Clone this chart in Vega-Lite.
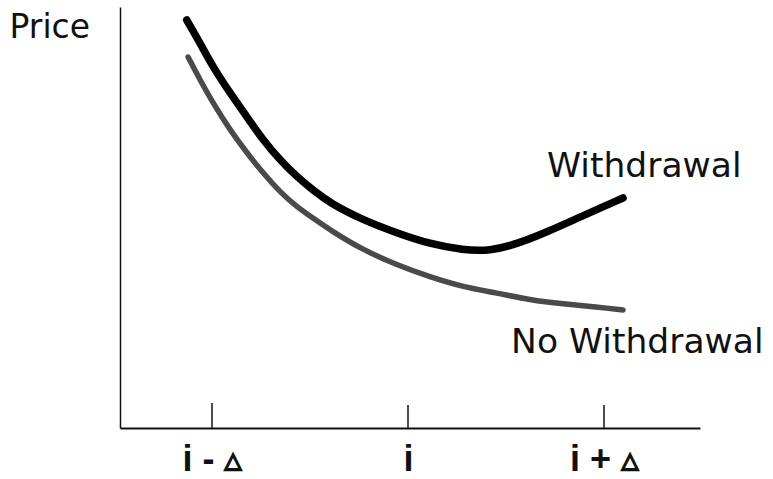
{
  "$schema": "https://vega.github.io/schema/vega-lite/v6.json",
  "width": 580,
  "height": 421,
  "autosize": {"type": "none"},
  "padding": {"left": 120, "top": 7, "right": 73, "bottom": 51},
  "background": "white",
  "config": {"view": {"stroke": null}, "font": "DejaVu Sans"},
  "datasets": {
    "curves": [
      {"series": "Withdrawal", "x": -1.129, "y": 408},
      {"series": "Withdrawal", "x": -1.061, "y": 385},
      {"series": "Withdrawal", "x": -0.995, "y": 361},
      {"series": "Withdrawal", "x": -0.908, "y": 335},
      {"series": "Withdrawal", "x": -0.821, "y": 311},
      {"series": "Withdrawal", "x": -0.74, "y": 288},
      {"series": "Withdrawal", "x": -0.653, "y": 268},
      {"series": "Withdrawal", "x": -0.566, "y": 251},
      {"series": "Withdrawal", "x": -0.485, "y": 238},
      {"series": "Withdrawal", "x": -0.398, "y": 225},
      {"series": "Withdrawal", "x": -0.23, "y": 208},
      {"series": "Withdrawal", "x": -0.056, "y": 195},
      {"series": "Withdrawal", "x": 0.112, "y": 184},
      {"series": "Withdrawal", "x": 0.281, "y": 178},
      {"series": "Withdrawal", "x": 0.418, "y": 177},
      {"series": "Withdrawal", "x": 0.556, "y": 184},
      {"series": "Withdrawal", "x": 0.709, "y": 196},
      {"series": "Withdrawal", "x": 0.878, "y": 211},
      {"series": "Withdrawal", "x": 1.097, "y": 230},
      {"series": "No Withdrawal", "x": -1.122, "y": 371},
      {"series": "No Withdrawal", "x": -1.061, "y": 348},
      {"series": "No Withdrawal", "x": -0.995, "y": 325},
      {"series": "No Withdrawal", "x": -0.908, "y": 298},
      {"series": "No Withdrawal", "x": -0.821, "y": 275},
      {"series": "No Withdrawal", "x": -0.74, "y": 255},
      {"series": "No Withdrawal", "x": -0.653, "y": 236},
      {"series": "No Withdrawal", "x": -0.566, "y": 221},
      {"series": "No Withdrawal", "x": -0.485, "y": 210},
      {"series": "No Withdrawal", "x": -0.398, "y": 198},
      {"series": "No Withdrawal", "x": -0.23, "y": 178},
      {"series": "No Withdrawal", "x": -0.056, "y": 163},
      {"series": "No Withdrawal", "x": 0.112, "y": 151},
      {"series": "No Withdrawal", "x": 0.281, "y": 141},
      {"series": "No Withdrawal", "x": 0.454, "y": 135},
      {"series": "No Withdrawal", "x": 0.622, "y": 128},
      {"series": "No Withdrawal", "x": 0.791, "y": 124},
      {"series": "No Withdrawal", "x": 0.964, "y": 121},
      {"series": "No Withdrawal", "x": 1.097, "y": 118}
    ],
    "ticks": [
      {"x": -1, "y": 0, "y2": 25},
      {"x": 0, "y": 0, "y2": 23},
      {"x": 1, "y": 0, "y2": 23}
    ],
    "labels": [
      {"label": "Withdrawal", "x": 0.709, "y": 251},
      {"label": "No Withdrawal", "x": 0.526, "y": 75}
    ]
  },
  "layer": [
    {
      "data": {"name": "curves"},
      "mark": {"type": "line", "interpolate": "basis", "strokeCap": "round"},
      "encoding": {
        "x": {
          "field": "x", "type": "quantitative",
          "scale": {"domain": [-1.4694, 1.4898], "nice": false, "zero": false},
          "axis": {
            "values": [-1, 0, 1],
            "labelExpr": "datum.value < 0 ? 'i - ▵' : datum.value > 0 ? 'i + ▵' : 'i'",
            "ticks": false, "grid": false, "title": null,
            "domainColor": "#111", "domainWidth": 2,
            "labelFont": "Liberation Sans", "labelFontWeight": "bold",
            "labelFontSize": 36, "labelColor": "#111",
            "labelBaseline": "bottom", "labelPadding": 50, "labelFlush": false
          }
        },
        "y": {
          "field": "y", "type": "quantitative",
          "scale": {"domain": [0, 421], "nice": false},
          "axis": {
            "ticks": false, "labels": false, "grid": false,
            "domainColor": "#111", "domainWidth": 1.5,
            "title": "Price", "titleAngle": 0, "titleAlign": "left",
            "titleBaseline": "alphabetic", "titleX": -111, "titleY": 30,
            "titleFont": "DejaVu Sans",
            "titleFontSize": 33, "titleFontWeight": "normal", "titleColor": "#111"
          }
        },
        "detail": {"field": "series"},
        "color": {
          "field": "series", "type": "nominal",
          "scale": {"domain": ["Withdrawal", "No Withdrawal"], "range": ["#000000", "#4a4a4a"]},
          "legend": null
        },
        "strokeWidth": {
          "field": "series", "type": "nominal",
          "scale": {"domain": ["Withdrawal", "No Withdrawal"], "range": [7.5, 5.5]},
          "legend": null
        }
      }
    },
    {
      "data": {"name": "ticks"},
      "mark": {"type": "rule", "color": "#111", "strokeWidth": 1.5},
      "encoding": {
        "x": {"field": "x", "type": "quantitative"},
        "y": {"field": "y", "type": "quantitative"},
        "y2": {"field": "y2"}
      }
    },
    {
      "data": {"name": "labels"},
      "mark": {"type": "text", "align": "left", "baseline": "alphabetic", "fontSize": 34.5, "font": "DejaVu Sans", "color": "#111"},
      "encoding": {
        "x": {"field": "x", "type": "quantitative"},
        "y": {"field": "y", "type": "quantitative"},
        "text": {"field": "label"}
      }
    }
  ]
}
